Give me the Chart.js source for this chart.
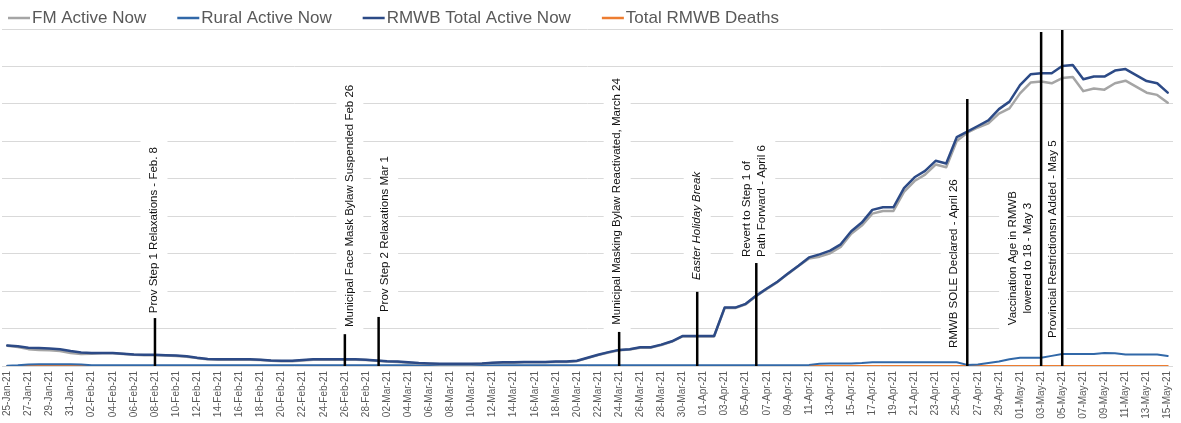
<!DOCTYPE html>
<html>
<head>
<meta charset="utf-8">
<script src="https://cdn.jsdelivr.net/npm/chart.js@4.4.1/dist/chart.umd.min.js"></script>
<style>
  html, body { margin: 0; padding: 0; background: #fff; }
</style>
</head>
<body>
<canvas id="chart" width="1181" height="423"></canvas>
<script>
// daily categories, 25-Jan-21 .. 15-May-21
const monthNames = ['Jan', 'Feb', 'Mar', 'Apr', 'May'];
const dates = [];
for (let i = 0; i < 111; i++) {
  const d = new Date(Date.UTC(2021, 0, 25 + i));
  dates.push(String(d.getUTCDate()).padStart(2, '0') + '-' + monthNames[d.getUTCMonth()] + '-21');
}

const fmActive = [
  54, 51, 45, 43, 42, 40, 35, 32, 33, 34,
  34, 32, 30, 29, 29, 28, 27, 25, 21, 18,
  17, 17, 17, 17, 16, 14, 13, 13, 15, 17,
  17, 17, 17, 17, 16, 14, 12, 11, 9, 7,
  6, 5, 5, 5, 5, 6, 8, 9, 9, 10,
  10, 10, 11, 11, 13, 21, 29, 36, 42, 44,
  49, 49, 56, 65, 79, 79, 79, 79, 155, 155,
  165, 187, 206, 224, 246, 267, 287, 292, 301, 318,
  353, 375, 407, 414, 414, 465, 494, 511, 538, 531,
  601, 623, 637, 648, 674, 688, 728, 757, 760, 755,
  769, 772, 734, 741, 738, 755, 762, 746, 730, 724, 703
];
const ruralActive = [
  1, 2, 4, 5, 5, 5, 5, 4, 2, 2,
  2, 2, 2, 2, 2, 2, 2, 2, 2, 2,
  2, 2, 2, 2, 2, 2, 2, 2, 2, 2,
  2, 2, 2, 2, 2, 2, 2, 2, 2, 2,
  2, 2, 2, 2, 2, 2, 2, 2, 2, 2,
  2, 2, 2, 2, 2, 2, 2, 2, 2, 2,
  2, 2, 2, 2, 2, 2, 2, 2, 2, 2,
  2, 2, 2, 2, 2, 2, 3, 6, 7, 7,
  7, 8, 10, 10, 10, 10, 10, 10, 10, 10,
  10, 3, 4, 8, 12, 18, 22, 22, 22, 27,
  32, 32, 32, 32, 35, 34, 31, 31, 31, 31, 27
];
const rmwbTotal = [
  55, 53, 49, 48, 47, 45, 40, 36, 35, 35,
  35, 33, 31, 30, 30, 29, 28, 26, 22, 19,
  18, 18, 18, 18, 17, 15, 14, 14, 16, 18,
  18, 18, 18, 18, 17, 15, 13, 12, 10, 8,
  7, 6, 6, 6, 6, 7, 9, 10, 10, 11,
  11, 11, 12, 12, 14, 22, 30, 37, 43, 45,
  50, 50, 57, 66, 80, 80, 80, 80, 156, 156,
  166, 188, 207, 225, 247, 268, 290, 298, 308, 325,
  360, 383, 417, 424, 424, 475, 504, 521, 548, 541,
  611, 626, 641, 656, 686, 706, 750, 779, 782, 782,
  801, 804, 766, 773, 773, 789, 793, 777, 761, 755, 730
];
const rmwbDeaths = [
  0, 0, 0, 0, 0, 0, 0, 0, 0, 0,
  0, 0, 0, 0, 0, 0, 0, 0, 0, 0,
  0, 0, 0, 0, 0, 0, 0, 0, 0, 0,
  0, 0, 0, 0, 0, 0, 0, 0, 0, 0,
  0, 0, 0, 0, 0, 0, 0, 0, 0, 0,
  0, 0, 0, 0, 0, 0, 0, 0, 0, 0,
  0, 0, 0, 0, 0, 0, 0, 0, 0, 0,
  0, 0, 0, 0, 0, 0, 0, 0, 0, 0,
  0, 0, 0, 0, 0, 0, 0, 0, 0, 0,
  0, 0, 0, 0, 0, 0, 0, 0, 0, 0,
  0, 0, 0, 0, 0, 0, 0, 0, 0, 0, 0
];

// event markers: day index, height of the marker line, label text
const eventDay = [14, 32, 35.2, 58, 65.4, 71, 91, 98, 100];
const eventTop = [128, 85, 131, 91, 198, 275, 713, 892, 897];
const eventText = [
  ['Prov Step 1 Relaxations - Feb. 8'],
  ['Municipal Face Mask Bylaw Suspended Feb 26'],
  ['Prov Step 2 Relaxations Mar 1'],
  ['Municipal Masking Bylaw Reactivated, March 24'],
  ['Easter Holiday Break'],
  ['Revert to Step 1 of', 'Path Forward - April 6'],
  ['RMWB SOLE Declared - April 26'],
  ['Vaccination Age in RMWB', 'lowered to 18 - May 3'],
  ['Provincial Restrictionsn Added - May 5']
];

// where each label sits (dx in px from marker, y = start of text in axis units)
const labelPlace = [
  { dx: -1, y: 141 },
  { dx: 5, y: 104 },
  { dx: 6, y: 144 },
  { dx: -2, y: 110 },
  { dx: 0, y: 230, italic: true },
  { dx: -2, y: 291 },
  { dx: -13, y: 48 },
  { dx: -21, y: 288, align: 'center' },
  { dx: -9, y: 75 }
];

const FONT = '"Liberation Sans", Arial, sans-serif';

function eachLabel(chart, fn) {
  const xs = chart.scales.x, ys = chart.scales.y;
  eventDay.forEach((day, i) => {
    const p = labelPlace[i];
    fn({
      x: xs.getPixelForValue(day),
      lineTop: ys.getPixelForValue(eventTop[i]),
      base: ys.getPixelForValue(0),
      cx: xs.getPixelForValue(day) + p.dx,
      cy: ys.getPixelForValue(p.y),
      lines: eventText[i],
      place: p
    });
  });
}

const eventsPlugin = {
  id: 'events',
  beforeDatasetsDraw(chart) {
    const ctx = chart.ctx;
    ctx.save();
    eachLabel(chart, e => {
      ctx.font = (e.place.italic ? 'italic ' : '') + '11.5px ' + FONT;
      const w = Math.max(...e.lines.map(t => ctx.measureText(t).width));
      const h = e.lines.length * 15;
      ctx.save();
      ctx.translate(e.cx, e.cy);
      ctx.rotate(-Math.PI / 2);
      ctx.fillStyle = '#fff';
      const x0 = e.place.align === 'center' ? -w / 2 : 0;
      ctx.fillRect(x0 - 6, -h / 2 - 6, w + 12, h + 12);
      ctx.restore();
    });
    ctx.restore();
  },
  afterDatasetsDraw(chart) {
    const ctx = chart.ctx;
    ctx.save();
    eachLabel(chart, e => {
      ctx.strokeStyle = '#000';
      ctx.lineWidth = 2.5;
      ctx.beginPath();
      ctx.moveTo(e.x, e.base);
      ctx.lineTo(e.x, e.lineTop);
      ctx.stroke();

      ctx.save();
      ctx.translate(e.cx, e.cy);
      ctx.rotate(-Math.PI / 2);
      ctx.font = (e.place.italic ? 'italic ' : '') + '11.5px ' + FONT;
      ctx.fillStyle = '#111';
      ctx.textBaseline = 'middle';
      ctx.textAlign = e.place.align === 'center' ? 'center' : 'left';
      const n = e.lines.length;
      e.lines.forEach((t, j) => ctx.fillText(t, 0, (j - (n - 1) / 2) * 15));
      ctx.restore();
    });
    ctx.restore();
  }
};

const legendPlugin = {
  id: 'topLegend',
  afterDraw(chart) {
    const ctx = chart.ctx;
    ctx.save();
    ctx.font = '17px ' + FONT;
    ctx.textBaseline = 'middle';
    let x = 8;
    const y = 18;
    chart.data.datasets.forEach(ds => {
      ctx.strokeStyle = ds.borderColor;
      ctx.lineWidth = 2.5;
      ctx.beginPath();
      ctx.moveTo(x, y);
      ctx.lineTo(x + 22, y);
      ctx.stroke();
      ctx.fillStyle = '#595959';
      ctx.fillText(ds.label, x + 24, y);
      x += 24 + ctx.measureText(ds.label).width + 31;
    });
    ctx.restore();
  }
};

new Chart(document.getElementById('chart'), {
  type: 'line',
  data: {
    labels: dates,
    datasets: [
      { label: 'FM Active Now', data: fmActive, borderColor: '#A5A5A5', borderWidth: 2.5, order: 1 },
      { label: 'Rural Active Now', data: ruralActive, borderColor: '#3168A8', borderWidth: 2, order: 2 },
      { label: 'RMWB Total Active Now', data: rmwbTotal, borderColor: '#2C4A86', borderWidth: 2.5, order: 0 },
      { label: 'Total RMWB Deaths', data: rmwbDeaths, borderColor: '#ED7D31', borderWidth: 2, order: 3 }
    ]
  },
  options: {
    responsive: false,
    animation: false,
    devicePixelRatio: 1,
    layout: { padding: { left: 2, right: 8, top: 29, bottom: 0 } },
    elements: {
      point: { radius: 0 },
      line: { tension: 0, borderCapStyle: 'round', borderJoinStyle: 'round' }
    },
    plugins: {
      legend: { display: false },
      tooltip: { enabled: false }
    },
    scales: {
      x: {
        offset: true,
        grid: { display: false, drawTicks: false },
        border: { display: false },
        ticks: {
          autoSkip: false,
          maxRotation: 90,
          minRotation: 90,
          padding: 5,
          color: '#595959',
          font: { size: 10, family: FONT },
          callback: (v, i) => (i % 2 === 0 ? dates[i] : '')
        },
        afterFit: s => { s.height = 57; s.paddingLeft = 0; s.paddingRight = 0; }
      },
      y: {
        min: 0,
        max: 900,
        ticks: { display: false, stepSize: 100 },
        grid: { color: '#D9D9D9', lineWidth: 1, drawTicks: false },
        border: { display: false },
        afterFit: s => { s.width = 0; }
      }
    }
  },
  plugins: [eventsPlugin, legendPlugin]
});
</script>
</body>
</html>
